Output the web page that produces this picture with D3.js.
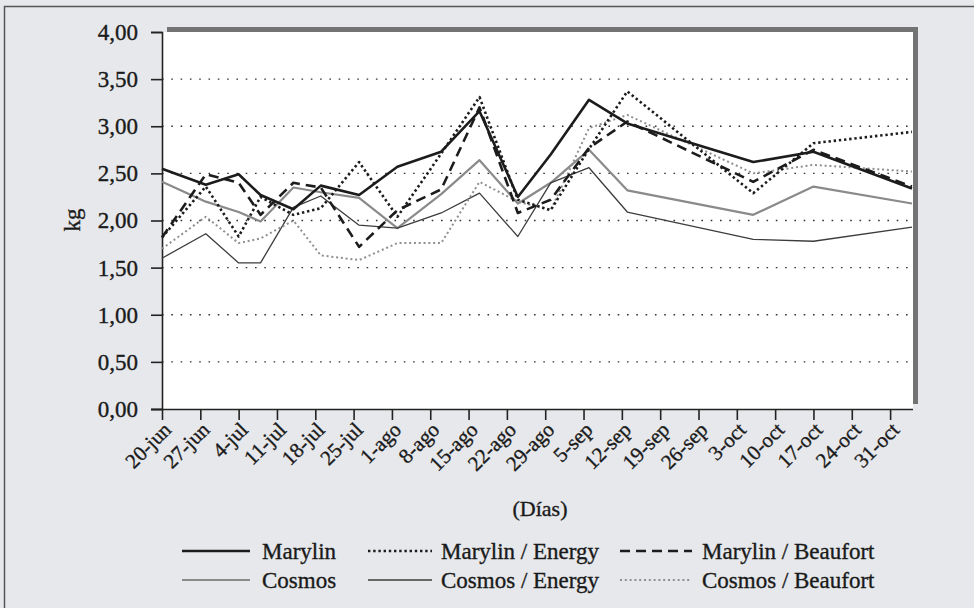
<!DOCTYPE html>
<html>
<head>
<meta charset="utf-8">
<script src="https://cdn.jsdelivr.net/npm/d3@7/dist/d3.min.js"></script>
<style>
html,body{margin:0;padding:0;background:#e6e8eb;}
svg{display:block;}
text{font-family:"Liberation Serif","Times New Roman",serif;fill:#1a1a1a;stroke:#1a1a1a;stroke-width:0.35px;}
</style>
</head>
<body>
<svg id="chart" width="974" height="608"></svg>
<script>
// ---------- data ----------
const tickLabels = ["20-jun","27-jun","4-jul","11-jul","18-jul","25-jul","1-ago","8-ago","15-ago","22-ago","29-ago","5-sep","12-sep","19-sep","26-sep","3-oct","10-oct","17-oct","24-oct","31-oct"];
const sampleDates = ["20-jun","28-jun","4-jul","8-jul","14-jul","19-jul","26-jul","2-ago","10-ago","17-ago","24-ago","30-ago","6-sep","13-sep","6-oct","17-oct","4-nov"];
const yTicks = [0,0.5,1,1.5,2,2.5,3,3.5,4];

const marylin          = [2.55,2.38,2.49,2.27,2.12,2.37,2.27,2.57,2.73,3.16,2.25,2.70,3.28,3.03,2.62,2.73,2.34];
const marylinEnergy    = [1.82,2.36,1.83,2.25,2.06,2.13,2.62,2.04,2.71,3.31,2.22,2.11,2.76,3.37,2.29,2.82,2.94];
const marylinBeaufort  = [1.82,2.49,2.40,2.06,2.40,2.35,1.72,2.11,2.33,3.20,2.08,2.22,2.77,3.05,2.41,2.75,2.36];
const cosmos           = [2.41,2.20,2.09,1.99,2.35,2.30,2.24,1.92,2.28,2.64,2.18,2.40,2.75,2.32,2.06,2.36,2.18];
const cosmosEnergy     = [1.60,1.86,1.55,1.55,2.14,2.26,1.95,1.92,2.08,2.29,1.83,2.40,2.56,2.09,1.80,1.78,1.93];
const cosmosBeaufort   = [1.70,2.04,1.76,1.81,2.00,1.63,1.58,1.76,1.76,2.41,2.20,2.11,2.98,3.12,2.50,2.59,2.52];

const seriesNames = ["Marylin","Marylin / Energy","Marylin / Beaufort","Cosmos","Cosmos / Energy","Cosmos / Beaufort"];
const seriesValues = [marylin, marylinEnergy, marylinBeaufort, cosmos, cosmosEnergy, cosmosBeaufort];

// ---------- styles ----------
const styles = {
  "Marylin":           {stroke:"#1c1c1c", width:2.6, dash:null},
  "Marylin / Energy":  {stroke:"#1c1c1c", width:2.6, dash:"2.4,2.8"},
  "Marylin / Beaufort":{stroke:"#1c1c1c", width:2.6, dash:"10,6"},
  "Cosmos":            {stroke:"#8a8a8a", width:2.2, dash:null},
  "Cosmos / Energy":   {stroke:"#3c3c3c", width:1.3, dash:null},
  "Cosmos / Beaufort": {stroke:"#8f8f8f", width:2.0, dash:"2,2.8"}
};

const months = {jun:5, jul:6, ago:7, sep:8, oct:9, nov:10};
function parseD(s){ const [d,m] = s.split("-"); return new Date(2007, months[m], +d); }

const svg = d3.select("#chart");

// chart background and border
svg.append("rect").attr("x",0).attr("y",0).attr("width",974).attr("height",608).attr("fill","#e6e8eb");
svg.append("rect").attr("x",4.5).attr("y",6.5).attr("width",1000).attr("height",700)
  .attr("fill","none").attr("stroke","#555").attr("stroke-width",1.5);

const L = 162, R = 912, T = 32, B = 409;

const x = d3.scaleTime().domain([parseD("20-jun"), parseD("4-nov")]).range([L, R]);
const y = d3.scaleLinear().domain([0,4]).range([B, T]);

// plot area shadow + white wall
svg.append("rect").attr("x",L+5).attr("y",T-5).attr("width",R-L+1).attr("height",B-T)
  .attr("fill","#737373");
svg.append("rect").attr("x",L).attr("y",T).attr("width",R-L+1).attr("height",B-T)
  .attr("fill","#ffffff");

// gridlines
svg.append("g").selectAll("line").data(yTicks.filter(v=>v>0 && v<4)).join("line")
  .attr("x1",L).attr("x2",R).attr("y1",d=>y(d)).attr("y2",d=>y(d))
  .attr("stroke","#333").attr("stroke-width",1.4).attr("stroke-dasharray","1.6,7.7");

// y axis
const loc = d3.formatLocale({decimal:",", thousands:".", grouping:[3], currency:["","€"]});
const fmt = loc.format(".2f");
const yAxis = d3.axisLeft(y).tickValues(yTicks).tickFormat(fmt).tickSize(11).tickPadding(13);
const gy = svg.append("g").attr("transform",`translate(${L},0)`).call(yAxis);
gy.select(".domain").attr("stroke","#222").attr("stroke-width",1.6);
gy.selectAll(".tick line").attr("stroke","#222").attr("stroke-width",1.6);
gy.selectAll(".tick text").attr("font-size",23).attr("font-family","Liberation Serif").attr("fill","#1a1a1a");

// x axis
const xTickDates = tickLabels.map(parseD);
const xAxis = d3.axisBottom(x).tickValues(xTickDates).tickFormat((d,i)=>tickLabels[i]).tickSize(11).tickSizeOuter(0);
const gx = svg.append("g").attr("transform",`translate(0,${B})`).call(xAxis);
gx.select(".domain").attr("stroke","#222").attr("stroke-width",1.6).attr("d",`M${L-11},0.5H${R+1}`);
gx.selectAll(".tick line").attr("stroke","#222").attr("stroke-width",1.6);
gx.selectAll(".tick text")
  .attr("font-size",21).attr("font-family","Liberation Serif").attr("fill","#1a1a1a")
  .attr("text-anchor","end").attr("dy",null).attr("y",null)
  .attr("transform","translate(10,22) rotate(-45)");

// axis titles
svg.append("text").attr("transform","translate(72,220) rotate(-90)").attr("text-anchor","middle")
  .attr("dy","0.35em").attr("font-size",23).text("kg");
svg.append("text").attr("x",540).attr("y",516).attr("text-anchor","middle").attr("font-size",22).text("(Días)");

// lines (draw Cosmos group first, Marylin on top)
const line = d3.line().x((d,i)=>x(parseD(sampleDates[i]))).y(d=>y(d));
const order = [3,4,5,2,1,0];
const gl = svg.append("g");
order.forEach(k=>{
  const nm = seriesNames[k], st = styles[nm];
  gl.append("path").datum(seriesValues[k]).attr("d",line)
    .attr("fill","none").attr("stroke",st.stroke).attr("stroke-width",st.width)
    .attr("stroke-dasharray",st.dash).attr("stroke-linejoin","round");
});

// legend
const legCols = [{lx1:182, lx2:250, tx:262},{lx1:368, lx2:432, tx:441},{lx1:620, lx2:692, tx:702}];
const legRows = [551, 580];
seriesNames.forEach((nm,k)=>{
  const c = legCols[k%3], r = legRows[Math.floor(k/3)], st = styles[nm];
  svg.append("line").attr("x1",c.lx1).attr("x2",c.lx2).attr("y1",r).attr("y2",r)
    .attr("stroke",st.stroke).attr("stroke-width",st.width).attr("stroke-dasharray",st.dash);
  svg.append("text").attr("x",c.tx).attr("y",r).attr("dy","0.33em").attr("font-size",23).text(nm);
});
</script>
</body>
</html>
